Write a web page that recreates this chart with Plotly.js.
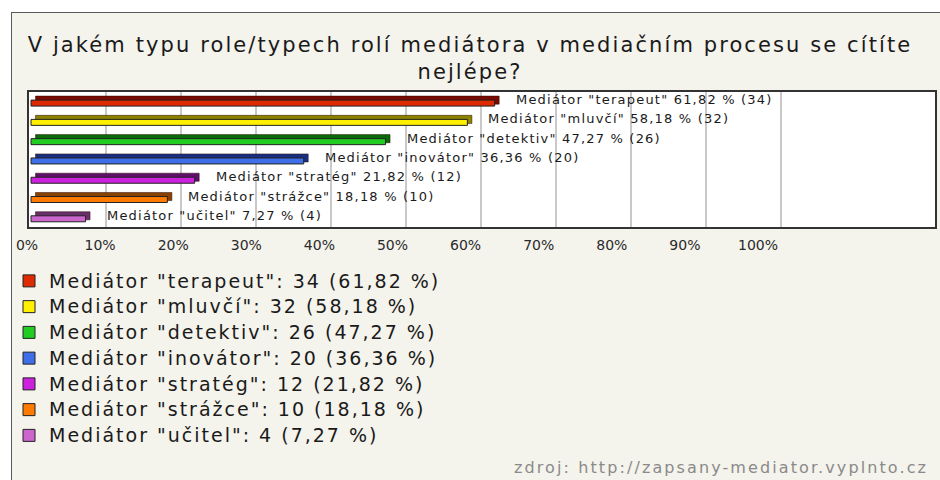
<!DOCTYPE html>
<html>
<head>
<meta charset="utf-8">
<script src="https://cdn.plot.ly/plotly-3.0.1.min.js"></script>
<style>
  html, body { margin: 0; padding: 0; background: #ffffff; }
  #bg { position: absolute; left: 11px; top: 12px; width: 940px; height: 480px;
        background: #f4f3ec; border-left: 1px solid #5a5a5a; border-top: 1px solid #5a5a5a; }
  #chart { position: absolute; left: 0; top: 0; width: 940px; height: 480px; }
  .gtitle { letter-spacing: 2.1px; }
  .annotation-text { letter-spacing: 1.2px; }
  .legendtext { letter-spacing: 2px; }
</style>
</head>
<body>
<div id="bg"></div>
<div id="chart"></div>
<script>
// ---- data ----
const roles = ['terapeut', 'mluvčí', 'detektiv', 'inovátor', 'stratég', 'strážce', 'učitel'];
const counts = [34, 32, 26, 20, 12, 10, 4];
const percents = [61.82, 58.18, 47.27, 36.36, 21.82, 18.18, 7.27];
const frontColors = ['#dd2a00', '#fff000', '#22cc22', '#3f6fe8', '#cc22dd', '#ff7a00', '#cc66cc'];
const topColors = ['#7a0a00', '#8c8200', '#0a6a0a', '#1a2f80', '#5e0f6a', '#8a4000', '#6a2f6a'];
const tickValues = [0, 10, 20, 30, 40, 50, 60, 70, 80, 90, 100];
const tickLabels = ['0%', '10%', '20%', '30%', '40%', '50%', '60%', '70%', '80%', '90%', '100%'];
const titleText = 'V jakém typu role/typech rolí mediátora v mediačním procesu se cítíte<br>nejlépe?';
const sourceText = 'zdroj: http://zapsany-mediator.vyplnto.cz';

// ---- build ----
const names = roles.map(r => 'Mediátor "' + r + '"');
const fmt = v => v.toFixed(2).replace('.', ',');

const traces = [];
// top (shadow) faces, drawn behind
names.forEach((n, i) => {
  traces.push({
    type: 'bar', orientation: 'h',
    y: [n], x: [percents[i]], base: 0.6,
    width: 0.42, offset: -0.29,
    marker: { color: topColors[i], line: { color: '#2a0a00', width: 0.5 } },
    showlegend: false, hoverinfo: 'skip'
  });
});
// front faces (carry the legend)
names.forEach((n, i) => {
  traces.push({
    type: 'bar', orientation: 'h',
    y: [n], x: [percents[i]],
    width: 0.31, offset: -0.08,
    name: '<span style="font-size:19px">' + n + ': ' + counts[i] + ' (' + fmt(percents[i]) + ' %)</span>',
    marker: { color: frontColors[i], line: { color: '#222222', width: 1 } },
    hoverinfo: 'skip'
  });
});
// carrier for the tick-label axis
traces.push({ type: 'scatter', x: [null], y: [null], xaxis: 'x2', yaxis: 'y', showlegend: false, hoverinfo: 'skip' });

const annotations = names.map((n, i) => ({
  x: percents[i], y: n, xref: 'x', yref: 'y',
  text: n + ' ' + fmt(percents[i]) + ' % (' + counts[i] + ')',
  showarrow: false, xanchor: 'left', yanchor: 'middle', xshift: 19, yshift: 2,
  font: { family: 'DejaVu Sans', size: 13, color: '#1a1a1a' }
}));
annotations.push({
  x: 0.9945, y: -1.778, xref: 'paper', yref: 'paper',
  text: '<span style="letter-spacing:2.1px">' + sourceText + '</span>',
  showarrow: false, xanchor: 'right', yanchor: 'middle',
  font: { family: 'DejaVu Sans', size: 16, color: '#8a8a8a' }
});

const layout = {
  width: 940, height: 480,
  paper_bgcolor: 'rgba(0,0,0,0)', plot_bgcolor: 'rgba(0,0,0,0)',
  margin: { l: 20, r: 5, t: 92, b: 253, pad: 0 },
  barmode: 'overlay',
  title: {
    text: titleText, xref: 'container', x: 0.5, xanchor: 'center',
    yref: 'container', y: 1 - 52 / 480, yanchor: 'top',
    font: { family: 'DejaVu Sans', size: 21, color: '#1a1a1a' }
  },
  xaxis: {
    domain: [9 / 915, 1], range: [-0.27, 120.53],
    tickvals: tickValues.slice(1), showticklabels: false, ticks: '',
    showgrid: true, gridcolor: '#c9c9c9', gridwidth: 1.5,
    zeroline: false, showline: true, mirror: true, linecolor: '#333333', linewidth: 2,
    fixedrange: true
  },
  xaxis2: {
    domain: [7 / 915, 738 / 915], range: [0, 100], anchor: 'free', position: 0,
    tickvals: tickValues, ticktext: tickLabels, ticks: '',
    showgrid: false, zeroline: false, showline: false,
    ticklabelstandoff: 8,
    tickfont: { family: 'DejaVu Sans', size: 14, color: '#2a2a2a' },
    fixedrange: true
  },
  yaxis: {
    type: 'category', categoryorder: 'array', categoryarray: names,
    range: [6.5, -0.5], showticklabels: false, ticks: '', showgrid: false,
    zeroline: false, showline: true, mirror: true, linecolor: '#333333', linewidth: 2,
    fixedrange: true
  },
  shapes: [{
    type: 'rect', xref: 'x domain', yref: 'y domain', x0: 0, x1: 1, y0: 0, y1: 1,
    fillcolor: '#ffffff', line: { width: 0 }, layer: 'below'
  }],
  showlegend: true,
  legend: {
    x: (9 - 20) / 915, xanchor: 'left', y: (227 - 263) / 135, yanchor: 'top',
    bgcolor: 'rgba(0,0,0,0)', borderwidth: 0,
    font: { family: 'DejaVu Sans', size: 17.5, color: '#1a1a1a' },
    traceorder: 'normal', tracegroupgap: 0
  },
  annotations: annotations
};

Plotly.newPlot('chart', traces, layout, { displayModeBar: false, staticPlot: true });
</script>
</body>
</html>
